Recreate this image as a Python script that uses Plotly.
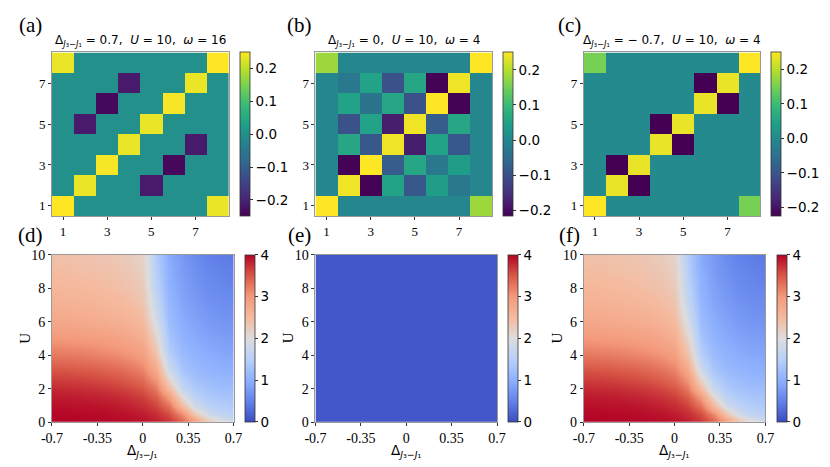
import plotly.graph_objects as go

W, H = 830, 467

# --- top row: correlation matrices, rows from site 1 (bottom) to site 8 (top) ---
sites = [1, 2, 3, 4, 5, 6, 7, 8]
site_ticks = [1, 3, 5, 7]

corr_a = [
    [0.25, 0, 0, 0, 0, 0, 0, 0.235],
    [0, 0.235, 0, 0, -0.215, 0, 0, 0],
    [0, 0, 0.245, 0, 0, -0.24, 0, 0],
    [0, 0, 0, 0.235, 0, 0, -0.215, 0],
    [0, -0.215, 0, 0, 0.235, 0, 0, 0],
    [0, 0, -0.24, 0, 0, 0.245, 0, 0],
    [0, 0, 0, -0.215, 0, 0, 0.235, 0],
    [0.235, 0, 0, 0, 0, 0, 0, 0.25],
]
corr_b = [
    [0.25, 0, 0, 0, 0, 0, 0, 0.18],
    [0, 0.24, -0.215, 0.05, -0.09, 0.04, -0.03, 0],
    [0, -0.215, 0.25, -0.08, 0.06, -0.03, 0.04, 0],
    [0, 0.06, -0.09, 0.24, -0.18, 0.05, -0.09, 0],
    [0, -0.1, 0.05, -0.18, 0.24, -0.08, 0.06, 0],
    [0, 0.05, -0.04, 0.06, -0.1, 0.25, -0.215, 0],
    [0, -0.03, 0.05, -0.1, 0.06, -0.215, 0.24, 0],
    [0.18, 0, 0, 0, 0, 0, 0, 0.25],
]
corr_c = [
    [0.25, 0, 0, 0, 0, 0, 0, 0.15],
    [0, 0.235, -0.226, 0, 0, 0, 0, 0],
    [0, -0.226, 0.235, 0, 0, 0, 0, 0],
    [0, 0, 0, 0.235, -0.226, 0, 0, 0],
    [0, 0, 0, -0.226, 0.235, 0, 0, 0],
    [0, 0, 0, 0, 0, 0.235, -0.226, 0],
    [0, 0, 0, 0, 0, -0.226, 0.235, 0],
    [0.15, 0, 0, 0, 0, 0, 0, 0.25],
]
zlim_a = (-0.25, 0.25)
zlim_b = (-0.217, 0.25)
zlim_c = (-0.226, 0.25)
corr_tickvals = [-0.2, -0.1, 0.0, 0.1, 0.2]
corr_ticktext = ["\u22120.2", "\u22120.1", "0.0", "0.1", "0.2"]

titles_top = [
    "Δ<sub><i>J</i>₃−<i>J</i>₁</sub> = 0.7,\u00a0 <i>U</i> = 10,\u00a0 <i>ω</i> = 16",
    "Δ<sub><i>J</i>₃−<i>J</i>₁</sub> = 0,\u00a0 <i>U</i> = 10,\u00a0 <i>ω</i> = 4",
    "Δ<sub><i>J</i>₃−<i>J</i>₁</sub> = \u2212 0.7,\u00a0 <i>U</i> = 10,\u00a0 <i>ω</i> = 4",
]

# --- bottom row: phase maps vs Delta and U ---
delta = [-0.7, -0.6, -0.5, -0.4, -0.3, -0.2, -0.1, 0.0, 0.1, 0.2, 0.3, 0.4, 0.5, 0.6, 0.7]
u_vals = [0, 0.5, 1, 1.5, 2, 3, 4, 5, 6, 7, 8, 9, 10]
phase_d = [
    [4.00, 4.00, 4.00, 3.99, 3.98, 3.97, 3.95, 3.92, 3.85, 3.72, 3.45, 2.95, 2.35, 2.05, 1.75],
    [3.98, 3.98, 3.97, 3.96, 3.95, 3.93, 3.90, 3.85, 3.75, 3.55, 3.10, 2.30, 1.80, 1.60, 1.52],
    [3.93, 3.93, 3.92, 3.91, 3.89, 3.86, 3.82, 3.75, 3.62, 3.30, 2.50, 1.80, 1.55, 1.45, 1.40],
    [3.87, 3.86, 3.85, 3.83, 3.81, 3.77, 3.72, 3.64, 3.45, 2.95, 2.05, 1.55, 1.40, 1.33, 1.30],
    [3.78, 3.77, 3.76, 3.74, 3.71, 3.66, 3.60, 3.50, 3.25, 2.50, 1.70, 1.40, 1.28, 1.22, 1.20],
    [3.55, 3.54, 3.52, 3.49, 3.45, 3.40, 3.32, 3.20, 2.80, 1.85, 1.35, 1.18, 1.10, 1.05, 1.02],
    [3.25, 3.24, 3.22, 3.19, 3.15, 3.10, 3.02, 2.90, 2.40, 1.50, 1.18, 1.05, 0.97, 0.92, 0.90],
    [3.00, 2.99, 2.97, 2.95, 2.92, 2.87, 2.80, 2.68, 2.15, 1.32, 1.06, 0.95, 0.87, 0.82, 0.80],
    [2.78, 2.77, 2.75, 2.73, 2.70, 2.66, 2.60, 2.48, 1.90, 1.20, 0.98, 0.86, 0.77, 0.72, 0.70],
    [2.65, 2.64, 2.62, 2.60, 2.57, 2.53, 2.47, 2.36, 1.72, 1.12, 0.90, 0.78, 0.69, 0.64, 0.62],
    [2.55, 2.54, 2.52, 2.50, 2.47, 2.43, 2.38, 2.27, 1.58, 1.05, 0.84, 0.71, 0.62, 0.57, 0.54],
    [2.47, 2.46, 2.44, 2.42, 2.40, 2.36, 2.31, 2.20, 1.50, 1.00, 0.79, 0.66, 0.56, 0.51, 0.48],
    [2.40, 2.39, 2.38, 2.36, 2.34, 2.30, 2.25, 2.15, 1.45, 0.95, 0.75, 0.60, 0.50, 0.45, 0.42],
]
phase_f = phase_d
delta_e = [-0.7, 0.7]
u_e = [0, 10]
phase_e = [[0.1, 0.1], [0.1, 0.1]]

delta_tickvals = [-0.7, -0.35, 0, 0.35, 0.7]
delta_ticktext = ["-0.7", "-0.35", "0", "0.35", "0.7"]
u_ticks = [0, 2, 4, 6, 8, 10]
phase_ticks = [0, 1, 2, 3, 4]

coolwarm = [
    [0.0, "rgb(59,76,192)"],
    [0.125, "rgb(98,130,234)"],
    [0.25, "rgb(141,176,254)"],
    [0.375, "rgb(184,208,249)"],
    [0.5, "rgb(221,221,221)"],
    [0.625, "rgb(245,186,158)"],
    [0.75, "rgb(244,154,123)"],
    [0.875, "rgb(217,88,71)"],
    [1.0, "rgb(180,4,38)"],
]

SERIF = "Liberation Serif"
SANS = "DejaVu Sans"

# pixel boxes of the plot areas and colorbar left edges
top_boxes = [(42, 223), (312, 493), (587, 768)]
top_cb = [235, 504, 779]
bot_boxes = [(42, 228), (312, 498), (587, 773)]
bot_cb = [240, 509, 785]
TOP_Y = (47, 216)
BOT_Y = (256, 429)


def xdom(a, b):
    return [a / W, b / W]


def ydom(t, b):
    return [1 - b / H, 1 - t / H]


def cbar(x_px, y_px, vals, text):
    t, b = y_px
    return dict(
        x=x_px / W, xanchor="left", xpad=0, ypad=0,
        y=1 - (t + b) / 2 / H, yanchor="middle",
        len=(b - t) / H, lenmode="fraction",
        thickness=10, thicknessmode="pixels",
        outlinewidth=0.8, outlinecolor="#333",
        ticks="outside", ticklen=3, tickcolor="#333",
        tickvals=vals, ticktext=text,
        tickfont=dict(family=SANS, size=13.5, color="black"),
    )


fig = go.Figure()
layout = {}
annotations = []

axis_ids = ["", "2", "3", "4", "5", "6"]

corrs = [corr_a, corr_b, corr_c]
zlims = [zlim_a, zlim_b, zlim_c]
for i in range(3):
    n = axis_ids[i]
    fig.add_trace(go.Heatmap(
        z=corrs[i], x=sites, y=sites,
        colorscale="Viridis", zmin=zlims[i][0], zmax=zlims[i][1],
        xaxis=f"x{n}", yaxis=f"y{n}",
        colorbar=cbar(top_cb[i], TOP_Y, corr_tickvals, corr_ticktext),
    ))
    layout[f"xaxis{n}"] = dict(
        domain=xdom(*top_boxes[i]), anchor=f"y{n}", range=[0.5, 8.5],
        tickvals=site_ticks, ticks="outside", ticklen=3,
        tickfont=dict(family=SERIF, size=13, color="black"),
    )
    layout[f"yaxis{n}"] = dict(
        domain=ydom(*TOP_Y), anchor=f"x{n}", range=[0.5, 8.5],
        tickvals=site_ticks, ticks="outside", ticklen=3,
        tickfont=dict(family=SERIF, size=13, color="black"),
    )
    annotations.append(dict(
        text=titles_top[i], x=(top_boxes[i][0] + top_boxes[i][1]) / 2 / W,
        y=1 - 35 / H, xref="paper", yref="paper", xanchor="center", yanchor="middle",
        showarrow=False, font=dict(family=SANS, size=12, color="black"),
    ))

phases = [(delta, u_vals, phase_d), (delta_e, u_e, phase_e), (delta, u_vals, phase_f)]
for i in range(3):
    n = axis_ids[i + 3]
    xs, ys, zs = phases[i]
    fig.add_trace(go.Heatmap(
        z=zs, x=xs, y=ys, zsmooth="best",
        colorscale=coolwarm, zmin=0, zmax=4,
        xaxis=f"x{n}", yaxis=f"y{n}",
        colorbar=cbar(bot_cb[i], BOT_Y, phase_ticks, [str(v) for v in phase_ticks]),
    ))
    layout[f"xaxis{n}"] = dict(
        domain=xdom(*bot_boxes[i]), anchor=f"y{n}", range=[-0.7, 0.7],
        tickvals=delta_tickvals, ticktext=delta_ticktext, ticks="outside", ticklen=3,
        tickfont=dict(family=SERIF, size=14, color="black"),
    )
    layout[f"yaxis{n}"] = dict(
        domain=ydom(*BOT_Y), anchor=f"x{n}", range=[0, 10],
        tickvals=u_ticks, ticks="outside", ticklen=3,
        tickfont=dict(family=SERIF, size=14, color="black"),
    )
    cx = (bot_boxes[i][0] + bot_boxes[i][1]) / 2
    annotations.append(dict(
        text="Δ<sub><i>J</i>₃−<i>J</i>₁</sub>", x=cx / W, y=1 - 459 / H,
        xref="paper", yref="paper", xanchor="center", yanchor="middle",
        showarrow=False, font=dict(family=SANS, size=13.5, color="black"),
    ))
    annotations.append(dict(
        text="U", x=(bot_boxes[i][0] - 28) / W, y=1 - 342 / H, textangle=-90,
        xref="paper", yref="paper", xanchor="center", yanchor="middle",
        showarrow=False, font=dict(family=SERIF, size=15, color="black"),
    ))

# panel letters
letters = ["(a)", "(b)", "(c)", "(d)", "(e)", "(f)"]
letter_pos = [(20, 19), (296, 19), (572, 19), (20, 236), (296, 236), (572, 236)]
for lab, (px, py) in zip(letters, letter_pos):
    annotations.append(dict(
        text=lab, x=px / W, y=1 - py / H, xref="paper", yref="paper",
        xanchor="center", yanchor="middle", showarrow=False,
        font=dict(family=SERIF, size=21, color="black"),
    ))

for k, ax in layout.items():
    ax.update(showline=True, mirror=True, linecolor="#999", linewidth=1,
              showgrid=False, zeroline=False, tickcolor="#333")

fig.update_layout(
    width=W, height=H, margin=dict(l=0, r=0, t=0, b=0),
    paper_bgcolor="white", plot_bgcolor="white",
    annotations=annotations, **layout,
)

# drop the page's default body margin so the figure sits at the window corner
fig.write_html(
    "out.html",
    config={"displayModeBar": False},
    post_script="document.body.style.margin='0px';",
)
